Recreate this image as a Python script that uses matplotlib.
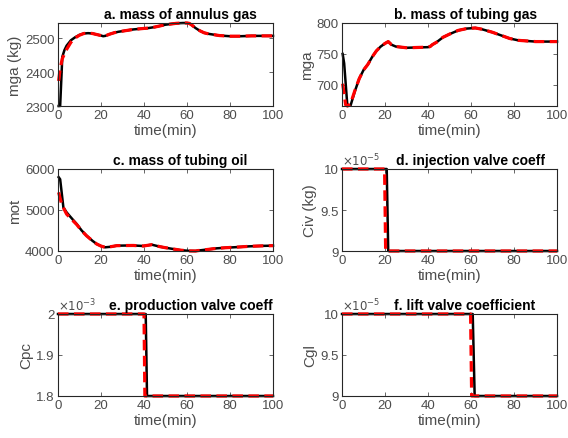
import numpy as np
import matplotlib.pyplot as plt
import matplotlib.ticker as mticker

# a. Masse Ringraumgas
t_a = [0.3, 1, 2, 3, 4, 6, 8, 10, 12, 14, 16, 18, 20, 21, 22, 24, 26, 28, 30, 35, 40, 42,
       45, 50, 55, 58, 60, 61, 62, 64, 66, 68, 70, 75, 80, 85, 90, 95, 100]
mga_true = [2300, 2300, 2445, 2465, 2478, 2494, 2503, 2510, 2514, 2515, 2514, 2511, 2508, 2506,
            2507, 2512, 2516, 2519, 2521, 2526, 2529, 2530, 2533, 2540, 2544, 2545, 2545, 2544,
            2540, 2530, 2522, 2516, 2513, 2508, 2506, 2506, 2507, 2507, 2507]
t_a_est = [0.3, 1, 2, 4, 6, 8, 10, 12, 14, 16, 18, 20, 21, 22, 24, 26, 28, 30, 35, 40, 42,
           45, 50, 55, 58, 60, 61, 62, 64, 66, 68, 70, 75, 80, 85, 90, 95, 100]
mga_est = [2374, 2410, 2440, 2467, 2488, 2501, 2509, 2514, 2515, 2514, 2511, 2508, 2506,
           2507, 2512, 2516, 2519, 2521, 2526, 2529, 2530, 2533, 2540, 2544, 2545, 2545, 2544,
           2540, 2530, 2522, 2516, 2513, 2508, 2506, 2506, 2507, 2507, 2507]

# b. Masse Steigrohrgas
t_b = [0.3, 1, 2.5, 4, 6, 8, 10, 12, 14, 16, 18, 20, 21.5, 23, 25, 30, 35, 40, 41, 42, 44,
       47, 50, 54, 58, 62, 65, 70, 74, 78, 82, 86, 90, 100]
mgt_true = [750, 735, 666, 667, 690, 710, 724, 733, 745, 755, 762, 767, 770, 765, 762, 760,
            760.5, 761, 762, 765, 769, 777, 782, 788, 791, 792, 790, 785, 780, 775, 772, 771,
            770, 770]
t_b_est = [0.3, 1.7, 2.5, 4, 6, 8, 10, 12, 14, 16, 18, 20, 21.5, 23, 25, 30, 35, 40, 41, 42,
           44, 47, 50, 54, 58, 62, 65, 70, 74, 78, 82, 86, 90, 100]
mgt_est = [702, 668, 666, 670, 691, 710, 724, 733, 745, 755, 762, 767, 770, 765, 762, 760,
           760.5, 761, 762, 765, 769, 777, 782, 788, 791, 792, 790, 785, 780, 775, 772, 771,
           770, 770]

# c. Masse Steigrohröl
t_c = [0.3, 1, 2.5, 4, 6, 8.7, 11, 13.3, 16, 18, 20, 21.9, 24, 27.3, 31, 35, 39.7, 43.6,
       47.4, 50, 53.6, 57, 61.4, 64, 66, 70, 73.8, 78, 81.5, 85, 89, 95, 100]
mot_true = [5800, 5750, 5065, 4943, 4820, 4659, 4500, 4373, 4250, 4171, 4120, 4090, 4100,
            4130, 4133, 4135, 4122, 4154, 4106, 4080, 4049, 4020, 4002, 4000, 4016, 4040,
            4065, 4080, 4090, 4100, 4114, 4125, 4130]
t_c_est = [0.3, 1.7, 4, 6, 8.7, 11, 13.3, 16, 18, 20, 21.9, 24, 27.3, 31, 35, 39.7, 43.6,
           47.4, 50, 53.6, 57, 61.4, 64, 66, 70, 73.8, 78, 81.5, 85, 89, 95, 100]
mot_est = [5430, 5140, 4900, 4790, 4645, 4495, 4370, 4250, 4171, 4120, 4090, 4100, 4130,
           4133, 4135, 4122, 4154, 4106, 4080, 4049, 4020, 4002, 4000, 4016, 4040, 4065,
           4080, 4090, 4100, 4114, 4125, 4130]

# d.-f. Ventilkoeffizienten (Sprungfunktionen)
t_d = [0, 20.8, 21.5, 100]
civ_true = [1e-4, 1e-4, 9e-5, 9e-5]
t_d_est = [0, 19.8, 20.3, 100]
civ_est = [1e-4, 1e-4, 9e-5, 9e-5]

t_e = [0, 40.8, 41.4, 100]
cpc_true = [2e-3, 2e-3, 1.8e-3, 1.8e-3]
t_e_est = [0, 40.0, 40.4, 100]
cpc_est = [2e-3, 2e-3, 1.8e-3, 1.8e-3]

t_f = [0, 60.8, 61.7, 100]
cgl_true = [1e-4, 1e-4, 9e-5, 9e-5]
t_f_est = [0, 59.8, 60.3, 100]
cgl_est = [1e-4, 1e-4, 9e-5, 9e-5]

grey = '#4d4d4d'
plt.rcParams['font.family'] = ['Liberation Sans', 'DejaVu Sans']

fig = plt.figure(figsize=(5.68, 4.39), dpi=100)

W, H = 568, 439
cols = [58, 342]
rows = [(24, 107), (170, 252), (315, 397)]


def make_ax(col, row):
    top, bottom = rows[row]
    ax = fig.add_axes([cols[col] / W, 1 - bottom / H, 215 / W, (bottom - top) / H])
    return ax


def style(ax, title, ylabel, yticks, ylim, title_x=0.57, scale=None):
    ax.set_xlim(0, 100)
    ax.set_ylim(*ylim)
    ax.set_xticks([0, 20, 40, 60, 80, 100])
    ax.set_yticks(yticks)
    ax.tick_params(direction='in', length=3, width=0.6, labelsize=9.5, colors=grey,
                   top=True, right=True, pad=2.5)
    for s in ax.spines.values():
        s.set_color('#262626')
        s.set_linewidth(0.8)
    ax.set_xlabel('time(min)', fontsize=11, color=grey, labelpad=1)
    ax.set_ylabel(ylabel, fontsize=11, color=grey, labelpad=2)
    ax.text(title_x, 1.03, title, transform=ax.transAxes, ha='center', va='bottom',
            fontsize=10, fontweight='bold', color='black')
    if scale is not None:
        ax.yaxis.set_major_formatter(
            mticker.FuncFormatter(lambda v, p: f'{v / 10 ** scale:g}'))
        ax.text(0.0, 1.01, r'$\times10^{%d}$' % scale, transform=ax.transAxes,
                ha='left', va='bottom', fontsize=8.5, color=grey)


def draw(ax, t1, y1, t2, y2):
    ax.plot(t1, y1, color='black', linewidth=1.8, solid_joinstyle='round', clip_on=False)
    ax.plot(t2, y2, color='red', linewidth=2.3, linestyle=(0, (3.3, 1.7)), clip_on=False)


ax = make_ax(0, 0)
draw(ax, t_a, mga_true, t_a_est, mga_est)
style(ax, 'a. mass of annulus gas', 'mga (kg)', [2300, 2400, 2500], (2300, 2545))

ax = make_ax(1, 0)
draw(ax, t_b, mgt_true, t_b_est, mgt_est)
style(ax, 'b. mass of tubing gas', 'mga', [700, 750, 800], (666, 800), title_x=0.575)

ax = make_ax(0, 1)
draw(ax, t_c, mot_true, t_c_est, mot_est)
style(ax, 'c. mass of tubing oil', 'mot', [4000, 5000, 6000], (4000, 6000))

ax = make_ax(1, 1)
draw(ax, t_d, civ_true, t_d_est, civ_est)
style(ax, 'd. injection valve coeff', 'Civ (kg)', [9e-5, 9.5e-5, 1e-4], (9e-5, 1e-4),
      title_x=0.6, scale=-5)

ax = make_ax(0, 2)
draw(ax, t_e, cpc_true, t_e_est, cpc_est)
style(ax, 'e. production valve coeff', 'Cpc', [1.8e-3, 1.9e-3, 2e-3], (1.8e-3, 2e-3),
      title_x=0.62, scale=-3)

ax = make_ax(1, 2)
draw(ax, t_f, cgl_true, t_f_est, cgl_est)
style(ax, 'f. lift valve coefficient', 'Cgl', [9e-5, 9.5e-5, 1e-4], (9e-5, 1e-4),
      title_x=0.57, scale=-5)

fig.savefig('out.png', dpi=100, facecolor='white')
